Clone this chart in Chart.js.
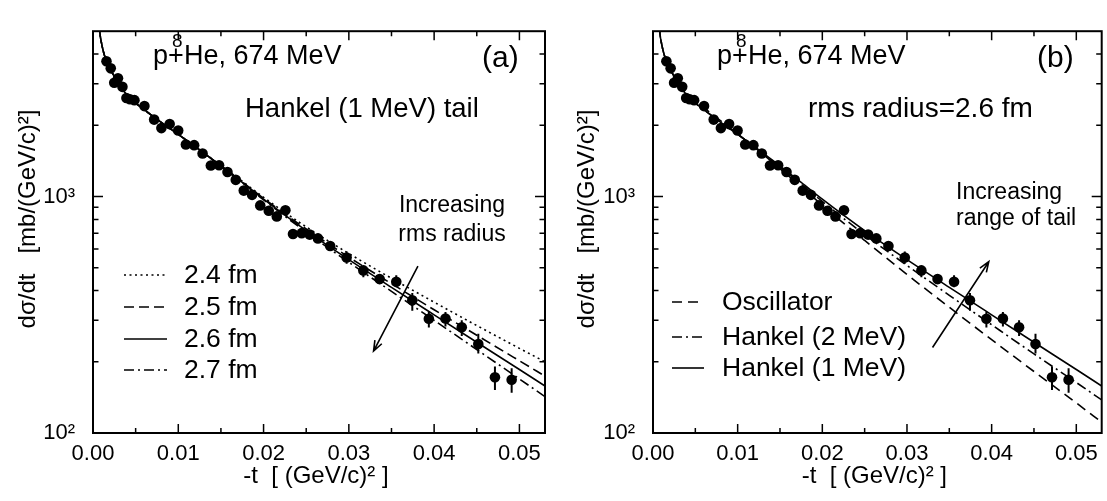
<!DOCTYPE html>
<html><head><meta charset="utf-8">
<script src="https://cdn.jsdelivr.net/npm/chart.js@4/dist/chart.umd.min.js"></script>
<style>
html,body{margin:0;padding:0;background:#fff;}
#wrap{position:relative;width:1107px;height:501px;overflow:hidden;}
.p{position:absolute;top:0;height:501px;}
</style></head><body>
<div id="wrap">
<div class="p" style="left:0;width:553px"><canvas id="ca"></canvas></div>
<div class="p" style="left:553px;width:554px"><canvas id="cb"></canvas></div>
</div>
<script>
// ---- measured data points (-t in (GeV/c)^2, dsigma/dt in mb/(GeV/c)^2) ----
const tData = [0.00158,0.00208,0.00249,0.00293,0.00345,0.00392,0.00433,0.00486,0.00603,0.00717,0.00802,0.00899,0.00999,0.01089,0.01186,0.01285,0.01382,0.01478,0.01577,0.01674,0.01768,0.01865,0.01961,0.02061,0.02155,0.02256,0.02345,0.02447,0.02541,0.02638,0.02781,0.02974,0.0317,0.03361,0.03556,0.03744,0.03938,0.04133,0.04324,0.04518,0.04713,0.04909];
const sigData = [3731,3483,3028,3163,2909,2610,2578,2555,2411,2114,1946,2024,1901,1660,1649,1521,1352,1356,1270,1176,1059,1016,917,871,824,875,694,700,690,665,618,552,487,448,436,364,304,305,280,238,172,168];
const errUp = [60,60,55,55,50,45,45,45,45,40,40,40,40,35,35,35,30,30,30,30,30,30,28,28,28,28,26,26,26,26,28,34,23,22,29,27,22,20,20,25,19,20];
const errDown = [60,60,55,55,50,45,45,45,45,40,40,40,40,35,35,35,30,30,30,30,30,30,28,28,28,28,26,26,26,26,28,32,31,22,23,35,25,23,23,21,20,20];

// ---- calculated curves ----
const tCurve = [0.0006,0.0008,0.001,0.0013,0.0017,0.0025,0.004,0.006,0.008,0.010,0.0125,0.015,0.0175,0.020,0.025,0.030,0.035,0.040,0.045,0.050,0.053];
const rms24 = [6300,4950,4450,4000,3650,3220,2680,2330,2060,1830,1577,1352,1160,992,744,574,451,357.5,284.7,228,200];
const rms25 = [6300,4950,4450,4000,3650,3220,2680,2330,2060,1830,1576,1348,1153,982,729,554,428,332,259,202,174];
const rms26 = [6300,4950,4450,4000,3650,3220,2680,2330,2060,1830,1575,1345,1148,975,718,541,413,316,242,185.5,158];
const rms27 = [6300,4950,4450,4000,3650,3220,2680,2330,2060,1830,1574,1342,1143,968,707,527,397,299.5,225.3,169.3,142.5];
const oscillator = [6300,4950,4450,4000,3650,3220,2717,2373,2089,1838,1561,1311,1101,918,652,468,340,248,182,134,111];
const hankel2 = [6300,4950,4450,4000,3650,3220,2680,2330,2060,1830,1568,1333,1129,953,690,511,382,287,216,163.5,138];
const hankel1 = rms26;

// ---- axes ----
const xLabelVals = [0,0.01,0.02,0.03,0.04,0.05];
const xTickLabels = ['0.00','0.01','0.02','0.03','0.04','0.05'];
const xMinorVals = [0.005,0.015,0.025,0.035,0.045];
const yLabelVals = [100,1000];
const yTickLabels = ['10\u00B2','10\u00B3'];
const yMinorVals = [200,300,400,500,600,700,800,900,2000,3000,4000];

// ---- annotation arrows (data coords) ----
const arrowA = [[0.0381,508],[0.0329,222]];
const arrowB = [[0.03302,230],[0.03966,530]];

const FF = '"Liberation Sans", Arial, Helvetica, sans-serif';

function drawArrow(ctx, x0, y0, x1, y1) {
  ctx.beginPath(); ctx.moveTo(x0,y0); ctx.lineTo(x1,y1);
  const a = Math.atan2(y1-y0, x1-x0), L = 11, s = 0.36;
  ctx.moveTo(x1 - L*Math.cos(a-s), y1 - L*Math.sin(a-s)); ctx.lineTo(x1,y1);
  ctx.lineTo(x1 - L*Math.cos(a+s), y1 - L*Math.sin(a+s));
  ctx.stroke();
}

function makeDeco(p) {
  return {
    id: 'deco',
    afterDatasetsDraw(chart) {
      const ctx = chart.ctx, ca = chart.chartArea, xs = chart.scales.x, ys = chart.scales.y;
      ctx.save();
      ctx.strokeStyle = '#000'; ctx.fillStyle = '#000';
      // error bars
      ctx.save();
      ctx.beginPath(); ctx.rect(ca.left, ca.top, ca.right-ca.left, ca.bottom-ca.top); ctx.clip();
      ctx.lineWidth = 2; ctx.beginPath();
      for (let i = 0; i < tData.length; i++) {
        const x = xs.getPixelForValue(tData[i]);
        ctx.moveTo(x, ys.getPixelForValue(sigData[i] + errUp[i]));
        ctx.lineTo(x, ys.getPixelForValue(sigData[i] - errDown[i]));
      }
      ctx.stroke();
      ctx.restore();
      // frame
      ctx.lineWidth = 2; ctx.setLineDash([]);
      ctx.strokeRect(ca.left, ca.top, ca.right-ca.left, ca.bottom-ca.top);
      // ticks (inward, all four sides)
      ctx.lineWidth = 1.5; ctx.beginPath();
      const xt = (v, L) => { const x = xs.getPixelForValue(v); if (x <= ca.left+1 || x >= ca.right-1) return;
        ctx.moveTo(x, ca.bottom); ctx.lineTo(x, ca.bottom-L); ctx.moveTo(x, ca.top); ctx.lineTo(x, ca.top+L); };
      const yt = (v, L) => { const y = ys.getPixelForValue(v); if (y <= ca.top+1 || y >= ca.bottom-1) return;
        ctx.moveTo(ca.left, y); ctx.lineTo(ca.left+L, y); ctx.moveTo(ca.right, y); ctx.lineTo(ca.right-L, y); };
      xLabelVals.forEach(v => xt(v, 9)); xMinorVals.forEach(v => xt(v, 5));
      yLabelVals.forEach(v => yt(v, 10)); yMinorVals.forEach(v => yt(v, 5.5));
      ctx.stroke();
      // arrow
      ctx.lineWidth = 1.6;
      const ar = p.arrow;
      drawArrow(ctx, xs.getPixelForValue(ar[0][0]), ys.getPixelForValue(ar[0][1]), xs.getPixelForValue(ar[1][0]), ys.getPixelForValue(ar[1][1]));
      // legend
      chart.data.datasets.forEach((d, i) => {
        if (!d.showLine) return;
        const y = p.legY[i];
        ctx.lineWidth = 1.6; ctx.setLineDash(d.borderDash || []);
        ctx.beginPath(); ctx.moveTo(p.legX0, y); ctx.lineTo(p.legX1, y); ctx.stroke();
        ctx.setLineDash([]);
        ctx.font = '26.5px ' + FF; ctx.textAlign = 'left'; ctx.textBaseline = 'middle';
        ctx.fillText(d.label, p.legTX, y + 1);
      });
      // texts
      ctx.textBaseline = 'alphabetic'; ctx.textAlign = 'left';
      ctx.font = '27px ' + FF;
      ctx.fillText('p+', p.titleX, 64);
      ctx.fillText('He, 674 MeV', p.titleX + 31, 64);
      ctx.font = '19px ' + FF;
      ctx.fillText('8', p.titleX + 19, 47);
      ctx.font = '30px ' + FF;
      ctx.fillText(p.tag, p.tagX, 67);
      ctx.font = p.subFont + 'px ' + FF;
      ctx.fillText(p.sub, p.subX, 117);
      ctx.font = '23px ' + FF; ctx.textAlign = p.incAlign;
      ctx.fillText(p.inc[0], p.incX, p.incY[0]);
      ctx.fillText(p.inc[1], p.incX, p.incY[1]);
      // axis titles
      ctx.font = '24px ' + FF; ctx.textAlign = 'center';
      ctx.fillText('-t  [ (GeV/c)\u00B2 ]', (ca.left + ca.right) / 2 - 3, 483);
      ctx.translate(p.yTitleX, 219); ctx.rotate(-Math.PI/2);
      ctx.textBaseline = 'middle';
      ctx.fillText('d\u03C3/dt   [mb/(GeV/c)\u00B2]', 0, 0);
      ctx.restore();
    }
  };
}

function buildChart(id, p, sets) {
  const datasets = sets.map(s => ({
    label: s.label, showLine: true, borderColor: '#000', borderWidth: 1.6, borderDash: s.dash,
    pointRadius: 0, pointHoverRadius: 0, fill: false, cubicInterpolationMode: 'monotone',
    data: tCurve.map((t, i) => ({x: t, y: s.values[i]}))
  }));
  datasets.push({
    label: 'data', showLine: false, pointRadius: 5.3, pointHoverRadius: 5.3,
    pointBackgroundColor: '#000', pointBorderColor: '#000', pointBorderWidth: 0,
    data: tData.map((t, i) => ({x: t, y: sigData[i]}))
  });
  return new Chart(document.getElementById(id), {
    type: 'scatter',
    data: {datasets},
    plugins: [makeDeco(p)],
    options: {
      responsive: true, maintainAspectRatio: false, animation: false, devicePixelRatio: 1, events: [],
      layout: {padding: {left: 0, right: p.padR, top: p.padT, bottom: 0}},
      plugins: {legend: {display: false}, tooltip: {enabled: false}, title: {display: false}},
      scales: {
        x: {
          type: 'linear', min: 0, max: 0.053,
          grid: {display: false, drawTicks: false}, border: {display: false},
          afterBuildTicks: s => { s.ticks = xLabelVals.map(v => ({value: v})); },
          afterFit: s => { s.height = 68; },
          ticks: {autoSkip: false, maxRotation: 0, minRotation: 0, padding: 8, color: '#000',
                  font: {family: FF, size: 22}, callback: (v, i) => xTickLabels[i]}
        },
        y: {
          type: 'logarithmic', min: 100, max: 5000,
          grid: {display: false, drawTicks: false}, border: {display: false},
          afterBuildTicks: s => { s.ticks = yLabelVals.map(v => ({value: v})); },
          afterFit: s => { s.width = p.yW; },
          ticks: {autoSkip: false, padding: 18, color: '#000',
                  font: {family: FF, size: 22}, callback: (v, i) => yTickLabels[i]}
        }
      }
    }
  });
}

buildChart('ca', {
  padR: 8, padT: 12, yW: 93, titleX: 153, tag: '(a)', tagX: 482,
  sub: 'Hankel (1 MeV) tail', subX: 245, subFont: 27.5,
  inc: ['Increasing', 'rms radius'], incX: 452, incY: [212, 241], incAlign: 'center',
  legX0: 124, legX1: 167, legTX: 184, legY: [275, 307, 339, 370],
  yTitleX: 28, arrow: arrowA
}, [
  {label: '2.4 fm', values: rms24, dash: [2, 3.5]},
  {label: '2.5 fm', values: rms25, dash: [10, 5]},
  {label: '2.6 fm', values: rms26, dash: []},
  {label: '2.7 fm', values: rms27, dash: [10, 4, 2, 4]}
]);

buildChart('cb', {
  padR: 1, padT: 10, yW: 100, titleX: 164, tag: '(b)', tagX: 484,
  sub: 'rms radius=2.6 fm', subX: 255, subFont: 28,
  inc: ['Increasing', 'range of tail'], incX: 403, incY: [199, 225], incAlign: 'left',
  legX0: 119, legX1: 151, legTX: 169, legY: [302, 337, 368],
  yTitleX: 34, arrow: arrowB
}, [
  {label: 'Oscillator', values: oscillator, dash: [10, 6]},
  {label: 'Hankel (2 MeV)', values: hankel2, dash: [10, 4, 2, 4]},
  {label: 'Hankel (1 MeV)', values: hankel1, dash: []}
]);
</script>
</body></html>
